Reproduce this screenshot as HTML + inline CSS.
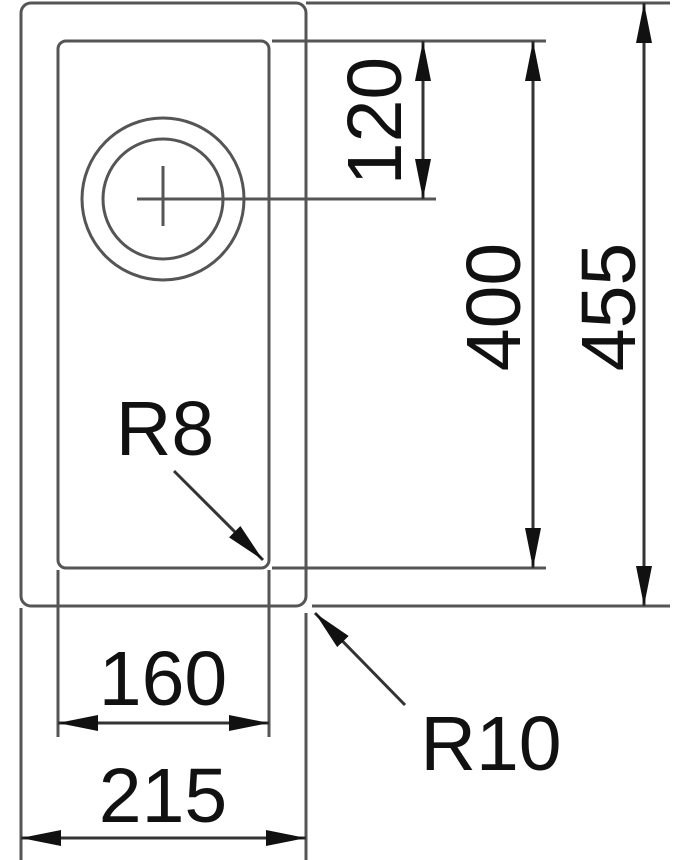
<!DOCTYPE html>
<html><head><meta charset="utf-8"><style>
html,body{margin:0;padding:0;background:#fff;}
svg{display:block;}
text{font-family:"Liberation Sans",sans-serif;font-size:77px;fill:#111;}
</style></head><body>
<svg width="695" height="860" viewBox="0 0 695 860" xmlns="http://www.w3.org/2000/svg">
<defs>
<marker id="a" viewBox="0 0 40 16" refX="40" refY="8" markerWidth="40" markerHeight="16" markerUnits="userSpaceOnUse" orient="auto-start-reverse">
<path d="M0,0 L40,8 L0,16 Z" fill="#111"/>
</marker>
</defs>
<g fill="none" stroke="#555" stroke-width="3">
<rect x="21" y="3" width="285" height="603" rx="10"/>
<rect x="58" y="41" width="211" height="527" rx="8"/>
<circle cx="163" cy="199" r="81"/>
<circle cx="163" cy="199" r="60"/>
<line x1="163" y1="166" x2="163" y2="226"/>
<line x1="137" y1="199" x2="436" y2="199"/>
<line x1="272" y1="41" x2="546" y2="41"/>
<line x1="306" y1="3" x2="670" y2="3"/>
<line x1="272" y1="568" x2="546" y2="568"/>
<line x1="312" y1="606" x2="670" y2="606"/>
<line x1="58" y1="570" x2="58" y2="737"/>
<line x1="269" y1="570" x2="269" y2="737"/>
<line x1="21" y1="608" x2="21" y2="860"/>
<line x1="306" y1="613" x2="306" y2="860"/>
</g>
<g stroke="#333" stroke-width="3" fill="none">
<line x1="423" y1="41" x2="423" y2="199" marker-start="url(#a)" marker-end="url(#a)"/>
<line x1="533" y1="41" x2="533" y2="568" marker-start="url(#a)" marker-end="url(#a)"/>
<line x1="644" y1="3" x2="644" y2="606" marker-start="url(#a)" marker-end="url(#a)"/>
<line x1="58" y1="723" x2="269" y2="723" marker-start="url(#a)" marker-end="url(#a)"/>
<line x1="21" y1="838" x2="306" y2="838" marker-start="url(#a)" marker-end="url(#a)"/>
<line x1="174" y1="471" x2="263" y2="560" marker-end="url(#a)"/>
<line x1="405" y1="705" x2="315" y2="613" marker-end="url(#a)"/>
</g>
<text x="163" y="705" text-anchor="middle">160</text>
<text x="163" y="822" text-anchor="middle">215</text>
<text x="165" y="455" text-anchor="middle">R8</text>
<text x="491" y="770" text-anchor="middle">R10</text>
<text transform="translate(401,121) rotate(-90)" text-anchor="middle">120</text>
<text transform="translate(520,307) rotate(-90)" text-anchor="middle">400</text>
<text transform="translate(635,307) rotate(-90)" text-anchor="middle">455</text>
</svg>
</body></html>
